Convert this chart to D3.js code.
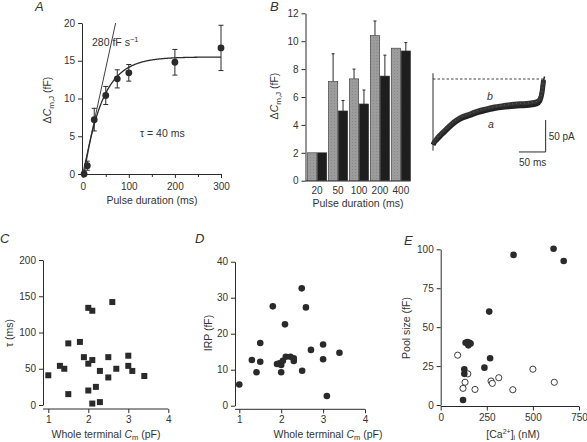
<!DOCTYPE html>
<html><head><meta charset="utf-8">
<script src="https://cdn.jsdelivr.net/npm/d3@7"></script>
<style>
body{margin:0;background:#fff;}
svg{display:block;font-family:"Liberation Sans",Arial,sans-serif;}
text{fill:#333;}
</style></head><body>
<svg id="c" width="587" height="442"></svg>
<script>
// ---------- DATA ----------
// Panel A
const aDur = [3, 10, 25, 50, 75, 100, 200, 300];
const aVal = [0, 1.1, 7.2, 10.4, 12.6, 13.4, 14.8, 16.7];
const aErr = [0, 0.6, 1.5, 1.2, 1.2, 1.1, 1.7, 3.0];
const aFitAmp = 15.5, aFitTau = 40, aFitT0 = 3;
const aSlope = 0.28; // fF per ms (280 fF s-1)
const aXTicks = [0, 100, 200, 300];
const aXMinor = [50, 150, 250];
const aYTicks = [0, 5, 10, 15, 20];
// Panel B
const bCats = ["20", "50", "100", "200", "400"];
const bGray = [2.0, 7.1, 7.3, 10.4, 9.5];
const bGrayErr = [0, 2.0, 0.7, 1.05, 0];
const bBlack = [2.0, 5.0, 5.5, 7.5, 9.3];
const bBlackErr = [0, 0.75, 1.0, 1.5, 0.6];
const bYTicks = [0, 2, 4, 6, 8, 10, 12];
// Current traces (ms, pA)
const trT = [0, 2, 7, 15, 25, 38, 50, 69, 85, 100, 115, 131, 147, 163, 180, 194, 200, 204, 207];
const trA = [-103, -100, -95, -88, -80, -70, -63, -57, -52, -49, -46, -44, -43, -42, -41, -39, -34, -22, -2];
const trB = [-101, -98, -92, -85, -77, -67, -60, -54, -49, -46, -43, -41, -39, -38, -37, -35, -31, -20, -1];
// Panel C
const cX = [1.0, 1.29, 1.4, 1.5, 1.5, 1.79, 1.89, 2.0, 2.0, 2.0, 2.1, 2.1, 2.1, 2.19, 2.29, 2.29, 2.5, 2.5, 2.6, 2.7, 3.0, 3.0, 3.1, 3.4];
const cY = [41, 54, 50, 85, 15, 87, 66, 134, 57, 20, 130, 62, 2, 25, 47, 4, 66, 38, 142, 50, 68, 54, 47, 40];
const cXTicks = [1, 2, 3, 4];
const cYTicks = [0, 50, 100, 150, 200];
// Panel D
const dX = [1.0, 1.3, 1.41, 1.5, 1.5, 1.9, 1.96, 2.0, 2.0, 2.04, 2.11, 2.22, 2.3, 2.3, 2.5, 2.71, 3.0, 3.0, 2.09, 1.8, 2.49, 2.59, 3.09, 3.39];
const dY = [5.9, 12.7, 9.3, 12.2, 17.4, 11.6, 11.8, 11.3, 9.3, 12.5, 13.6, 13.6, 13.2, 12.4, 9.7, 15.5, 17.0, 12.9, 22.6, 27.6, 32.6, 27.3, 2.7, 14.7];
const dXTicks = [1, 2, 3, 4];
const dYTicks = [0, 10, 20, 30, 40];
// Panel E
const eFilledX = [395, 612, 667, 263, 135, 145, 155, 162, 150, 268, 237, 128, 128, 121];
const eFilledY = [96.4, 100.4, 92.5, 60, 40, 40.5, 40, 39.5, 38.3, 30, 24, 23, 20, 3.2];
const eOpenX = [92, 147, 132, 121, 186, 273, 280, 315, 391, 500, 616];
const eOpenY = [32, 20, 14.6, 10.7, 10, 15.4, 13.9, 17.5, 9.8, 23, 14.6];
const eXTicks = [0, 250, 500, 750];
const eYTicks = [0, 25, 50, 75, 100];

// ---------- DRAW ----------
const svg = d3.select("#c");
const ink = "#2a2a2a";
const fmt = d3.format("d");

function styleAxis(g) {
  g.selectAll("path.domain").attr("stroke", ink).attr("stroke-width", 1);
  g.selectAll(".tick line").attr("stroke", ink);
  g.selectAll(".tick text").attr("fill", "#333").style("font-size", "10px").style("font-family", "Liberation Sans, Arial, sans-serif");
}
function letter(t, x, y) {
  svg.append("text").attr("x", x).attr("y", y).text(t)
    .style("font-size", "13px").style("font-style", "italic");
}
function label(x, y, rot) {
  const t = svg.append("text").attr("text-anchor", "middle").style("font-size", "10.5px");
  if (rot) t.attr("transform", `translate(${x},${y}) rotate(-90)`);
  else t.attr("x", x).attr("y", y);
  return t;
}
function dcLabel(x, y) {
  const t = label(x, y, true);
  t.append("tspan").text("\u0394");
  t.append("tspan").text("C").style("font-style", "italic");
  t.append("tspan").text("m,J").attr("dy", 3).style("font-size", "8px");
  t.append("tspan").text(" (fF)").attr("dy", -3);
}
function cmLabel(x, y) {
  const t = label(x, y);
  t.append("tspan").text("Whole terminal ");
  t.append("tspan").text("C").style("font-style", "italic");
  t.append("tspan").text("m").attr("dy", 1.5).style("font-size", "7.5px");
  t.append("tspan").text("  (pF)").attr("dy", -1.5);
}

// ----- Panel A -----
{
  const x = d3.scaleLinear().domain([0, 300]).range([82.7, 221]);
  const y = d3.scaleLinear().domain([0, 20]).range([174, 23]);
  const gx = svg.append("g").attr("transform", "translate(0,174)")
    .call(d3.axisBottom(x).tickValues(aXTicks).tickSize(4).tickSizeOuter(0).tickFormat(fmt));
  styleAxis(gx);
  gx.selectAll(".tick text").attr("dy", "0.9em");
  svg.append("g").attr("transform", "translate(0,174)")
    .call(d3.axisBottom(x).tickValues(aXMinor).tickSize(3).tickFormat(""))
    .call(g => { g.select(".domain").remove(); g.selectAll("line").attr("stroke", ink); });
  const gy = svg.append("g").attr("transform", "translate(82,0)")
    .call(d3.axisLeft(y).tickValues(aYTicks).tickSize(4).tickSizeOuter(0).tickFormat(fmt));
  styleAxis(gy);
  svg.append("line").attr("x1", x(0)).attr("y1", y(0)).attr("x2", x(20 / aSlope)).attr("y2", y(20))
    .attr("stroke", ink).attr("stroke-width", 0.9);
  const fitT = d3.range(aFitT0, 300.5, 1);
  svg.append("path").datum(fitT)
    .attr("d", d3.line().x(t => x(t)).y(t => y(aFitAmp * (1 - Math.exp(-(t - aFitT0) / aFitTau)))))
    .attr("fill", "none").attr("stroke", ink).attr("stroke-width", 1.3);
  aDur.forEach((d, i) => {
    if (!aErr[i]) return;
    const cx = x(d);
    svg.append("line").attr("x1", cx).attr("x2", cx).attr("y1", y(aVal[i] - aErr[i])).attr("y2", y(aVal[i] + aErr[i])).attr("stroke", ink);
    [aVal[i] - aErr[i], aVal[i] + aErr[i]].forEach(v =>
      svg.append("line").attr("x1", cx - 2.5).attr("x2", cx + 2.5).attr("y1", y(v)).attr("y2", y(v)).attr("stroke", ink));
  });
  svg.append("g").selectAll("circle").data(aDur).join("circle")
    .attr("cx", d => x(d)).attr("cy", (d, i) => y(aVal[i])).attr("r", 3.4).attr("fill", ink);
  const s = svg.append("text").attr("x", 92).attr("y", 46).style("font-size", "10.5px");
  s.append("tspan").text("280 fF s");
  s.append("tspan").text("\u22121").attr("dy", -4).style("font-size", "7.5px");
  svg.append("text").attr("x", 140).attr("y", 137).style("font-size", "10.5px").text("\u03C4 = 40 ms");
  dcLabel(51, 100);
  label(152, 204).text("Pulse duration (ms)");
  letter("A", 35, 11);
}

// ----- Panel B -----
{
  const y = d3.scaleLinear().domain([0, 12]).range([180.7, 13.3]);
  const x = d3.scaleBand().domain(bCats).range([307.5, 410.5]).paddingInner(0.08);
  const sub = d3.scaleBand().domain(["g", "b"]).range([0, x.bandwidth()]).paddingInner(0.06);
  const gy = svg.append("g").attr("transform", "translate(305.5,0)")
    .call(d3.axisLeft(y).tickValues(bYTicks).tickSize(4).tickSizeOuter(0).tickFormat(fmt));
  styleAxis(gy);
  svg.append("line").attr("x1", 305.5).attr("x2", 410.5).attr("y1", 181).attr("y2", 181).attr("stroke", ink);
  const defs = svg.append("defs");
  const pat = defs.append("pattern").attr("id", "grain").attr("width", 3).attr("height", 3).attr("patternUnits", "userSpaceOnUse");
  pat.append("rect").attr("width", 3).attr("height", 3).attr("fill", "#9c9c9c");
  pat.append("rect").attr("x", 1).attr("y", 1).attr("width", 1).attr("height", 1).attr("fill", "#888");
  bCats.forEach((c, i) => {
    const x0 = x(c);
    [["g", bGray[i], bGrayErr[i], "url(#grain)"], ["b", bBlack[i], bBlackErr[i], "#1e1e1e"]].forEach(([k, v, e, f]) => {
      const bx = x0 + sub(k), bw = sub.bandwidth();
      if (e) {
        const cx = bx + bw / 2;
        svg.append("line").attr("x1", cx).attr("x2", cx).attr("y1", y(v)).attr("y2", y(v + e)).attr("stroke", ink);
        svg.append("line").attr("x1", cx - 1.5).attr("x2", cx + 1.5).attr("y1", y(v + e)).attr("y2", y(v + e)).attr("stroke", ink);
      }
      svg.append("rect").attr("x", bx).attr("y", y(v)).attr("width", bw).attr("height", y(0) - y(v))
        .attr("fill", f).attr("stroke", "#333").attr("stroke-width", 0.6);
    });
    svg.append("text").attr("x", x0 + x.bandwidth() / 2).attr("y", 194).attr("text-anchor", "middle")
      .style("font-size", "10px").text(c);
  });
  dcLabel(278, 96);
  label(358, 207).text("Pulse duration (ms)");
  letter("B", 270, 11);
}

// ----- Current traces -----
{
  const x = d3.scaleLinear().domain([0, 50]).range([433, 459.7]);
  const y = d3.scaleLinear().domain([0, -50]).range([79, 111]);
  svg.append("line").attr("x1", x(0)).attr("x2", x(210)).attr("y1", y(0)).attr("y2", y(0))
    .attr("stroke", ink).attr("stroke-dasharray", "2.5,2").attr("stroke-width", 0.9);
  svg.append("line").attr("x1", x(0)).attr("x2", x(0)).attr("y1", y(9)).attr("y2", y(-112))
    .attr("stroke", ink).attr("stroke-width", 1);
  const line = d3.line().x((d, i) => x(trT[i])).y(d => y(d)).curve(d3.curveMonotoneX);
  svg.append("path").datum(trA).attr("d", line).attr("fill", "none").attr("stroke", "#222").attr("stroke-width", 5);
  svg.append("path").datum(trB).attr("d", line).attr("fill", "none").attr("stroke", "#333").attr("stroke-width", 4);
  svg.append("path").datum(trB).attr("d", line).attr("fill", "none").attr("stroke", "#777").attr("stroke-width", 0.6).attr("stroke-dasharray", "1,3");
  svg.append("line").attr("x1", x(207)).attr("x2", x(209)).attr("y1", y(-2)).attr("y2", y(4)).attr("stroke", ink).attr("stroke-width", 1.5);
  svg.append("text").attr("x", 487).attr("y", 100).style("font-size", "10.5px").style("font-style", "italic").text("b");
  svg.append("text").attr("x", 488).attr("y", 128).style("font-size", "10.5px").style("font-style", "italic").text("a");
  const sx = x(210) + 0.5, sy = y(-114);
  svg.append("line").attr("x1", sx).attr("x2", sx).attr("y1", sy).attr("y2", sy - (y(-50) - y(0))).attr("stroke", ink);
  svg.append("line").attr("x1", sx).attr("x2", sx - (x(50) - x(0))).attr("y1", sy).attr("y2", sy).attr("stroke", ink);
  svg.append("text").attr("x", sx + 3).attr("y", 140).style("font-size", "10px").text("50 pA");
  svg.append("text").attr("x", sx - 13).attr("y", 166).attr("text-anchor", "middle").style("font-size", "10px").text("50 ms");
}

// ----- Scatter helper -----
function scatter(o) {
  const x = d3.scaleLinear().domain(o.xd).range(o.xr);
  const y = d3.scaleLinear().domain(o.yd).range(o.yr);
  const gx = svg.append("g").attr("transform", `translate(0,${o.axY})`)
    .call(d3.axisBottom(x).tickValues(o.xt).tickSize(4).tickSizeOuter(0).tickFormat(fmt));
  styleAxis(gx);
  gx.select(".domain").attr("d", `M${o.axX},0H${o.xr[1]}`);
  const gy = svg.append("g").attr("transform", `translate(${o.axX},0)`)
    .call(d3.axisLeft(y).tickValues(o.yt).tickSize(4).tickSizeOuter(0).tickFormat(fmt));
  styleAxis(gy);
  return { x, y };
}

// ----- Panel C -----
{
  const { x, y } = scatter({ xd: [1, 4], xr: [48.3, 168.3], yd: [0, 200], yr: [405, 260], xt: cXTicks, yt: cYTicks, axX: 43, axY: 409 });
  svg.append("g").selectAll("rect").data(cX).join("rect")
    .attr("x", d => x(d) - 3).attr("y", (d, i) => y(cY[i]) - 3).attr("width", 6).attr("height", 6).attr("fill", ink);
  label(13, 333, true).text("\u03C4 (ms)");
  cmLabel(106, 438);
  letter("C", 0, 243);
}

// ----- Panel D -----
{
  const { x, y } = scatter({ xd: [1, 4], xr: [239.3, 365], yd: [0, 40], yr: [405.7, 261.7], xt: dXTicks, yt: dYTicks, axX: 235, axY: 409.3 });
  svg.append("g").selectAll("circle").data(dX).join("circle")
    .attr("cx", d => x(d)).attr("cy", (d, i) => y(dY[i])).attr("r", 3.3).attr("fill", ink);
  label(212, 333, true).text("IRP (fF)");
  cmLabel(328, 438);
  letter("D", 195, 243);
}

// ----- Panel E -----
{
  const { x, y } = scatter({ xd: [0, 750], xr: [440.7, 579], yd: [0, 100], yr: [405, 249.3], xt: eXTicks, yt: eYTicks, axX: 440.7, axY: 406.5 });
  svg.append("g").selectAll("circle").data(eOpenX).join("circle")
    .attr("cx", d => x(d)).attr("cy", (d, i) => y(eOpenY[i])).attr("r", 3.1).attr("fill", "#fff").attr("stroke", ink).attr("stroke-width", 0.9);
  svg.append("g").selectAll("circle").data(eFilledX).join("circle")
    .attr("cx", d => x(d)).attr("cy", (d, i) => y(eFilledY[i])).attr("r", 3.3).attr("fill", ink);
  label(410, 328, true).text("Pool size (fF)");
  const t = label(513, 438);
  t.append("tspan").text("[Ca");
  t.append("tspan").text("2+").attr("dy", -4).style("font-size", "7px");
  t.append("tspan").text("]").attr("dy", 4);
  t.append("tspan").text("i").attr("dy", 1.5).style("font-size", "7px");
  t.append("tspan").text(" (n").attr("dy", -1.5);
  t.append("tspan").text("M)").style("font-variant", "small-caps");
  letter("E", 404, 245);
}
</script></body></html>
